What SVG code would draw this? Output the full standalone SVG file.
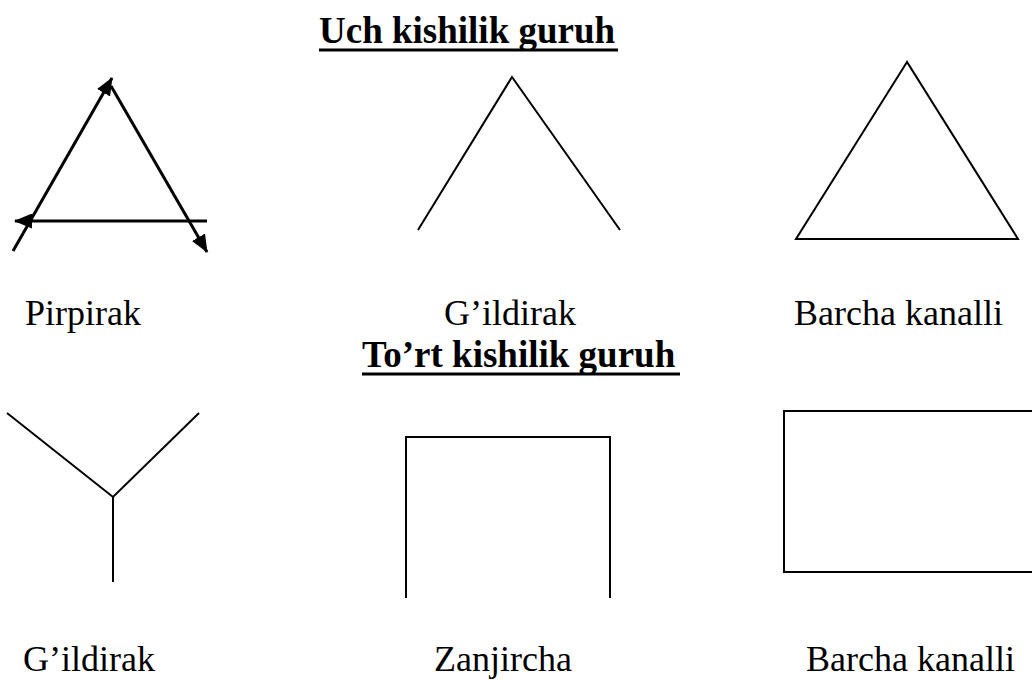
<svg xmlns="http://www.w3.org/2000/svg" width="1032" height="680" viewBox="0 0 1032 680">
<style>
  .shape { fill: none; stroke: #000; stroke-width: 2; }
  .arr { fill: none; stroke: #000; stroke-width: 3; }
  .lbl { font-family: "Liberation Serif", "Times New Roman", serif; font-size: 36px; fill: #000; }
  .ttl { font-family: "Liberation Serif", "Times New Roman", serif; font-size: 37px; font-weight: bold; fill: #000; }
  .ul { stroke: #000; stroke-width: 3; }
</style>
<defs>
  <marker id="ah" markerUnits="userSpaceOnUse" markerWidth="18" markerHeight="15" refX="17" refY="7.5" orient="auto" viewBox="0 0 18 15">
    <path d="M0,0 L18,7.5 L0,15 Z" fill="#000"/>
  </marker>
</defs>
<rect width="1032" height="680" fill="#fff"/>

<g id="title-top">
  <text class="ttl" x="319" y="43">Uch kishilik guruh</text>
  <line class="ul" x1="319" y1="50" x2="618" y2="50"/>
</g>
<g id="title-bottom">
  <text class="ttl" x="362" y="367">To’rt kishilik guruh</text>
  <line class="ul" x1="362" y1="374" x2="680" y2="374"/>
</g>

<g id="connectors">
  <line class="arr" x1="13" y1="251" x2="112" y2="78" marker-end="url(#ah)"/>
  <line class="arr" x1="111" y1="86" x2="207" y2="252" marker-end="url(#ah)"/>
  <line class="arr" x1="207" y1="221" x2="15" y2="221" marker-end="url(#ah)"/>
</g>

<g id="node-pirpirak">
  <text class="lbl" x="25" y="325">Pirpirak</text>
</g>
<g id="node-gildirak3">
  <polyline class="shape" points="418,230 512,77 620,230"/>
  <text class="lbl" x="444" y="325">G’ildirak</text>
</g>
<g id="node-barcha3">
  <polygon class="shape" points="907,62 796,239 1018,239"/>
  <text class="lbl" x="794" y="325">Barcha kanalli</text>
</g>

<g id="node-gildirak4">
  <polyline class="shape" points="7,413 113,497 199,413"/>
  <line class="shape" x1="113" y1="497" x2="113" y2="582"/>
  <text class="lbl" x="23" y="671">G’ildirak</text>
</g>
<g id="node-zanjircha">
  <polyline class="shape" points="406,598 406,437 610,437 610,598"/>
  <text class="lbl" x="434" y="671">Zanjircha</text>
</g>
<g id="node-barcha4">
  <polyline class="shape" points="1034,411 784,411 784,572 1034,572"/>
  <text class="lbl" x="806" y="671">Barcha kanalli</text>
</g>
</svg>
